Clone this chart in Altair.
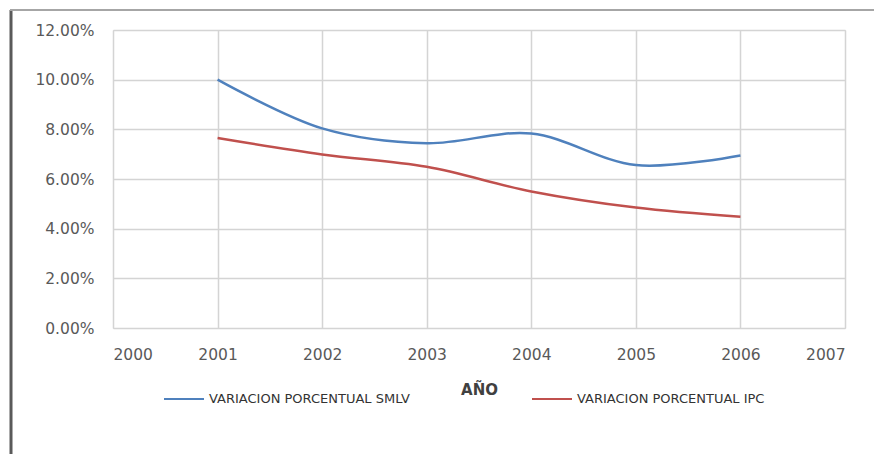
import altair as alt
import pandas as pd

# Annual percentage change: minimum wage (SMLV) vs consumer price index (IPC)
years = [2001, 2002, 2003, 2004, 2005, 2006]
smlv = [0.1000, 0.0804, 0.0744, 0.0783, 0.0656, 0.0695]
ipc = [0.0765, 0.0699, 0.0649, 0.0550, 0.0485, 0.0448]

series_names = ["VARIACION PORCENTUAL SMLV", "VARIACION PORCENTUAL IPC"]
series_colors = ["#4F81BD", "#C0504D"]

year_ticks = list(range(2000, 2008))
pct_ticks = [0.0, 0.02, 0.04, 0.06, 0.08, 0.10, 0.12]

df = pd.DataFrame(
    {"year": years * 2,
     "value": smlv + ipc,
     "serie": [series_names[0]] * len(years) + [series_names[1]] * len(years)}
)

W, H = 732, 298
FONT = "DejaVu Sans"

lines = alt.Chart(df).mark_line(strokeWidth=2.5, interpolate="catmull-rom").encode(
    x=alt.X("year:Q",
            scale=alt.Scale(domain=[2000, 2007], nice=False, zero=False),
            axis=alt.Axis(values=year_ticks, format="d", title="AÑO",
                          labelFontSize=15.5, labelColor="#595959", labelFont=FONT,
                          labelPadding=19, titleFont=FONT, titleFontSize=15,
                          titleFontWeight="bold", titleColor="#404040",
                          titlePadding=20, ticks=False, domain=False,
                          grid=True, gridColor="#d4d4d4", gridWidth=1.5)),
    y=alt.Y("value:Q",
            scale=alt.Scale(domain=[0, 0.12], nice=False),
            axis=alt.Axis(values=pct_ticks, format=".2%", title=None,
                          labelFontSize=15.5, labelColor="#595959", labelFont=FONT,
                          labelPadding=19, ticks=False, domain=False,
                          grid=True, gridColor="#d4d4d4", gridWidth=1.5)),
    color=alt.Color("serie:N",
                    scale=alt.Scale(domain=series_names, range=series_colors),
                    legend=alt.Legend(title=None, orient="none", direction="horizontal",
                                      legendX=50, legendY=348,
                                      symbolType="stroke", symbolSize=1600,
                                      symbolStrokeWidth=2, labelFont=FONT,
                                      labelFontSize=13, labelColor="#333333",
                                      labelOffset=4, columnPadding=118,
                                      labelLimit=400)),
)

# outer frame edges (left and top)
frame_left = alt.Chart().mark_rule(color="#5a5a5a", strokeWidth=3).encode(
    x=alt.value(-102), y=alt.value(-20), y2=alt.value(430))
frame_top = alt.Chart().mark_rule(color="#a6a6a6", strokeWidth=2).encode(
    x=alt.value(-103), x2=alt.value(770), y=alt.value(-20))

chart = alt.layer(frame_left, frame_top, lines).properties(
    width=W, height=H,
    autosize=alt.AutoSizeParams(type="none"),
    padding={"left": 113, "top": 30, "right": 29, "bottom": 126},
).configure_view(stroke="#d4d4d4", strokeWidth=1.5).configure(background="white")

chart.save("out.html", embed_options={"renderer": "svg", "actions": False})
